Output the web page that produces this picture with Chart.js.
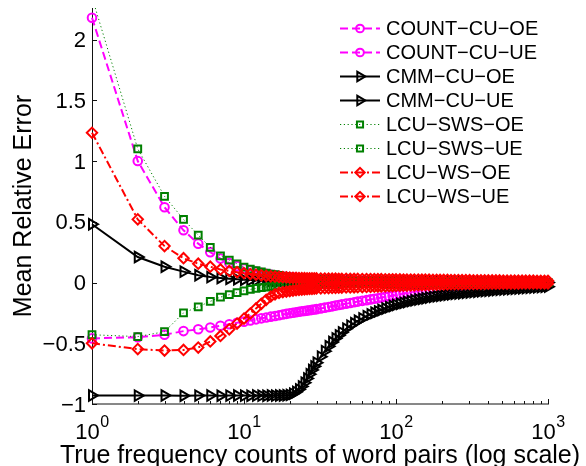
<!DOCTYPE html>
<html><head><meta charset="utf-8">
<script src="https://cdn.jsdelivr.net/npm/chart.js@4/dist/chart.umd.min.js"></script>
<style>html,body{margin:0;padding:0;background:#fff;overflow:hidden}canvas{display:block}</style>
</head><body>
<canvas id="c" width="586" height="466"></canvas>
<script>
// ---- data ----
const X = [1,2,3,4,5,6,7,8,9,10,
  11,12,13,14,15,16,17,18,19,20,
  21,22,23,24,25,26,27,28,29,30,
  32,34,36,38,40,42,44,47,50,53,
  56,60,64,68,72,76,80,85,90,95,
  100,106,112,118,125,132,140,148,156,165,
  175,185,195,206,218,230,243,257,272,288,
  305,323,342,362,383,405,429,454,480,508,
  538,570,603,638,675,714,756,800,847,896,
  948,1000];

const COUNT_CU_OE = [2.18,1.00,0.62,0.43,0.32,0.25,0.197,0.16,0.135,0.115,
  0.10,0.09,0.08,0.072,0.065,0.06,0.055,0.05,0.047,0.044,
  0.041,0.039,0.037,0.035,0.033,0.031,0.030,0.028,0.027,0.026,
  0.024,0.022,0.021,0.020,0.019,0.018,0.017,0.016,0.015,0.014,
  0.013,0.012,0.011,0.011,0.010,0.010,0.009,0.009,0.008,0.008,
  0.008,0.007,0.007,0.007,0.006,0.006,0.006,0.006,0.005,0.005,
  0.005,0.005,0.004,0.004,0.004,0.004,0.004,0.003,0.003,0.003,
  0.003,0.003,0.003,0.003,0.002,0.002,0.002,0.002,0.002,0.002,
  0.002,0.002,0.002,0.002,0.001,0.001,0.001,0.001,0.001,0.001,
  0.001,0.001];

const COUNT_CU_UE = [-0.46,-0.45,-0.43,-0.40,-0.385,-0.37,-0.356,-0.343,-0.332,-0.322,
  -0.312,-0.303,-0.295,-0.288,-0.281,-0.275,-0.269,-0.263,-0.258,-0.253,
  -0.249,-0.245,-0.241,-0.237,-0.234,-0.231,-0.228,-0.225,-0.222,-0.219,
  -0.213,-0.207,-0.201,-0.196,-0.19,-0.185,-0.18,-0.174,-0.168,-0.162,
  -0.157,-0.151,-0.145,-0.139,-0.134,-0.129,-0.124,-0.118,-0.113,-0.108,
  -0.103,-0.097,-0.092,-0.087,-0.081,-0.076,-0.07,-0.065,-0.06,-0.055,
  -0.05,-0.045,-0.041,-0.037,-0.034,-0.031,-0.028,-0.026,-0.024,-0.022,
  -0.02,-0.019,-0.018,-0.017,-0.016,-0.015,-0.014,-0.013,-0.013,-0.012,
  -0.011,-0.011,-0.01,-0.01,-0.009,-0.009,-0.008,-0.008,-0.007,-0.007,
  -0.006,-0.006];

const CMM_CU_OE = [0.48,0.21,0.13,0.09,0.06,0.045,0.037,0.031,0.027,0.023,
  0.020,0.018,0.016,0.015,0.013,0.012,0.011,0.010,0.010,0.009,
  0.009,0.008,0.008,0.008,0.007,0.007,0.007,0.006,0.006,0.006,
  0.006,0.005,0.005,0.005,0.005,0.004,0.004,0.004,0.004,0.004,
  0.003,0.003,0.003,0.003,0.003,0.003,0.003,0.002,0.002,0.002,
  0.002,0.002,0.002,0.002,0.002,0.002,0.002,0.002,0.002,0.002,
  0.002,0.002,0.001,0.001,0.001,0.001,0.001,0.001,0.001,0.001,
  0.001,0.001,0.001,0.001,0.001,0.001,0.001,0.001,0.001,0.001,
  0.001,0.001,0.001,0.001,0.001,0.001,0.001,0.001,0.001,0.001,
  0.001,0.001];

const CMM_CU_UE = [-0.93,-0.931,-0.93,-0.932,-0.931,-0.93,-0.932,-0.931,-0.93,-0.931,
  -0.932,-0.93,-0.931,-0.932,-0.93,-0.931,-0.93,-0.93,-0.928,-0.925,
  -0.915,-0.90,-0.88,-0.855,-0.825,-0.79,-0.755,-0.72,-0.69,-0.66,
  -0.61,-0.565,-0.525,-0.49,-0.46,-0.435,-0.41,-0.38,-0.355,-0.335,
  -0.315,-0.295,-0.277,-0.262,-0.249,-0.237,-0.226,-0.214,-0.203,-0.193,
  -0.184,-0.175,-0.167,-0.16,-0.153,-0.146,-0.14,-0.134,-0.129,-0.123,
  -0.118,-0.113,-0.109,-0.105,-0.101,-0.097,-0.094,-0.091,-0.088,-0.085,
  -0.082,-0.079,-0.076,-0.073,-0.071,-0.068,-0.066,-0.063,-0.061,-0.059,
  -0.056,-0.054,-0.052,-0.05,-0.048,-0.046,-0.044,-0.042,-0.04,-0.038,
  -0.036,-0.034];

const LCU_SWS_OE = [2.35,1.10,0.71,0.52,0.39,0.29,0.22,0.184,0.154,0.127,
  0.11,0.097,0.087,0.078,0.07,0.064,0.058,0.053,0.049,0.045,
  0.042,0.039,0.036,0.034,0.032,0.030,0.028,0.027,0.025,0.024,
  0.022,0.020,0.019,0.018,0.017,0.016,0.015,0.014,0.013,0.012,
  0.012,0.011,0.010,0.010,0.009,0.009,0.008,0.008,0.007,0.007,
  0.007,0.006,0.006,0.006,0.005,0.005,0.005,0.005,0.004,0.004,
  0.004,0.004,0.003,0.003,0.003,0.003,0.003,0.003,0.002,0.002,
  0.002,0.002,0.002,0.002,0.002,0.002,0.002,0.002,0.002,0.002,
  0.002,0.002,0.001,0.001,0.001,0.001,0.001,0.001,0.001,0.001,
  0.001,0.001];

const LCU_SWS_UE = [-0.43,-0.445,-0.405,-0.25,-0.20,-0.155,-0.12,-0.10,-0.083,-0.068,
  -0.057,-0.048,-0.042,-0.037,-0.033,-0.029,-0.027,-0.025,-0.023,-0.021,
  -0.020,-0.019,-0.018,-0.017,-0.016,-0.015,-0.015,-0.014,-0.014,-0.013,
  -0.012,-0.012,-0.011,-0.011,-0.010,-0.010,-0.009,-0.009,-0.008,-0.008,
  -0.008,-0.007,-0.007,-0.007,-0.006,-0.006,-0.006,-0.005,-0.005,-0.005,
  -0.005,-0.004,-0.004,-0.004,-0.004,-0.004,-0.004,-0.004,-0.004,-0.004,
  -0.004,-0.003,-0.003,-0.003,-0.003,-0.003,-0.003,-0.003,-0.003,-0.003,
  -0.003,-0.003,-0.002,-0.002,-0.002,-0.002,-0.002,-0.002,-0.002,-0.002,
  -0.002,-0.002,-0.002,-0.002,-0.002,-0.002,-0.002,-0.002,-0.002,-0.002,
  -0.001,-0.001];

const LCU_WS_OE = [1.233,0.52,0.30,0.20,0.155,0.13,0.108,0.095,0.085,0.077,
  0.070,0.064,0.059,0.055,0.051,0.048,0.046,0.044,0.042,0.040,
  0.039,0.038,0.037,0.036,0.036,0.035,0.035,0.034,0.034,0.034,
  0.033,0.033,0.032,0.032,0.032,0.031,0.031,0.031,0.030,0.030,
  0.030,0.029,0.029,0.029,0.028,0.028,0.028,0.027,0.027,0.027,
  0.026,0.026,0.025,0.025,0.025,0.024,0.024,0.023,0.023,0.023,
  0.022,0.022,0.021,0.021,0.021,0.020,0.020,0.020,0.019,0.019,
  0.019,0.018,0.018,0.018,0.018,0.017,0.017,0.017,0.017,0.016,
  0.016,0.016,0.016,0.015,0.015,0.015,0.015,0.015,0.014,0.014,
  0.014,0.014];

const LCU_WS_UE = [-0.50,-0.548,-0.56,-0.555,-0.535,-0.485,-0.44,-0.385,-0.338,-0.297,
  -0.255,-0.213,-0.175,-0.142,-0.115,-0.097,-0.086,-0.079,-0.074,-0.07,
  -0.066,-0.063,-0.06,-0.058,-0.056,-0.054,-0.053,-0.052,-0.05,-0.049,
  -0.048,-0.047,-0.046,-0.045,-0.044,-0.043,-0.042,-0.041,-0.04,-0.039,
  -0.038,-0.037,-0.036,-0.035,-0.034,-0.033,-0.032,-0.031,-0.03,-0.029,
  -0.028,-0.027,-0.026,-0.025,-0.024,-0.023,-0.022,-0.021,-0.02,-0.019,
  -0.018,-0.017,-0.016,-0.015,-0.015,-0.014,-0.014,-0.013,-0.013,-0.012,
  -0.012,-0.012,-0.011,-0.011,-0.011,-0.010,-0.010,-0.010,-0.010,-0.009,
  -0.009,-0.009,-0.009,-0.009,-0.008,-0.008,-0.008,-0.008,-0.008,-0.008,
  -0.008,-0.008];

const SERIES_NAMES = ['COUNT\u2212CU\u2212OE','COUNT\u2212CU\u2212UE','CMM\u2212CU\u2212OE','CMM\u2212CU\u2212UE',
  'LCU\u2212SWS\u2212OE','LCU\u2212SWS\u2212UE','LCU\u2212WS\u2212OE','LCU\u2212WS\u2212UE'];
const SERIES_VALUES = [COUNT_CU_OE, COUNT_CU_UE, CMM_CU_OE, CMM_CU_UE, LCU_SWS_OE, LCU_SWS_UE, LCU_WS_OE, LCU_WS_UE];

const Y_TICKS = [-1,-0.5,0,0.5,1,1.5,2];
const Y_TICK_LABELS = ['\u22121','\u22120.5','0','0.5','1','1.5','2'];
const X_TICKS = [1,10,100,1000];
const X_TICK_BASE = '10';
const X_TICK_EXPONENTS = ['0','1','2','3'];
const X_TITLE = 'True frequency counts of word pairs (log scale)';
const Y_TITLE = 'Mean Relative Error';

// ---- styles ----
const FONT = '"Liberation Sans", Arial, Helvetica, sans-serif';
const MAG = {color:'#ff00ff', dash:[8,4], lw:2, pt:'circle', r:4.3, rot:0, pw:2};
const BLK = {color:'#000000', dash:[], lw:2, pt:'triangle', r:6, rot:90, pw:2};
const GRN = {color:'#008000', dash:[1.2,2.6], lw:1, pt:'rect', r:4.8, rot:0, pw:2};
const RED = {color:'#ff0000', dash:[8,3,2,3], lw:2, pt:'rectRot', r:5.2, rot:0, pw:2};
const STYLES = [MAG, MAG, BLK, BLK, GRN, GRN, RED, RED];

SERIES_VALUES.forEach((s,i)=>{ if (s.length !== X.length) console.warn('length mismatch', SERIES_NAMES[i], s.length); });

const datasets = SERIES_VALUES.map((vals, i) => {
  const st = STYLES[i];
  return {
    label: SERIES_NAMES[i],
    data: X.map((x, k) => ({x: x, y: vals[k]})),
    borderColor: st.color,
    backgroundColor: 'rgba(0,0,0,0)',
    borderWidth: st.lw,
    borderDash: st.dash,
    pointStyle: st.pt,
    pointRadius: st.r,
    pointRotation: st.rot,
    pointBorderWidth: st.pw,
    pointBorderColor: st.color,
    pointBackgroundColor: 'rgba(0,0,0,0)',
    tension: 0,
    fill: false,
    clip: {left: false, top: 0, right: false, bottom: false},
    order: SERIES_VALUES.length - 1 - i
  };
});

function drawMarker(ctx, st, x, y) {
  ctx.save();
  ctx.strokeStyle = st.color;
  ctx.fillStyle = 'rgba(0,0,0,0)';
  ctx.lineWidth = st.pw;
  ctx.setLineDash([]);
  if (Chart.helpers && Chart.helpers.drawPoint) {
    Chart.helpers.drawPoint(ctx, {pointStyle: st.pt, rotation: st.rot, radius: st.r * 0.9, borderWidth: st.pw}, x, y);
  }
  ctx.restore();
}

const axesPlugin = {
  id: 'matlabAxes',
  beforeDatasetsDraw(chart) {
    const ctx = chart.ctx, xs = chart.scales.x, ys = chart.scales.y, a = chart.chartArea;
    ctx.save();
    ctx.strokeStyle = '#111';
    ctx.lineWidth = 1;
    ctx.setLineDash([]);
    ctx.beginPath();
    ctx.moveTo(a.left + 0.5, a.top); ctx.lineTo(a.left + 0.5, a.bottom);
    ctx.moveTo(a.left, a.bottom); ctx.lineTo(a.right + 1, a.bottom);
    ctx.stroke();
    // y ticks (inward)
    ctx.beginPath();
    Y_TICKS.forEach(v => {
      const y = Math.round(ys.getPixelForValue(v)) + 0.5;
      ctx.moveTo(a.left, y); ctx.lineTo(a.left + 5, y);
    });
    ctx.stroke();
    // x ticks (inward) major and minor
    ctx.beginPath();
    X_TICKS.forEach((d, i) => {
      const px = Math.round(xs.getPixelForValue(d)) + 0.5;
      ctx.moveTo(px, a.bottom); ctx.lineTo(px, a.bottom - 5);
      if (i < X_TICKS.length - 1) {
        for (let k = 2; k <= 9; k++) {
          const mx = Math.round(xs.getPixelForValue(d * k)) + 0.5;
          ctx.moveTo(mx, a.bottom); ctx.lineTo(mx, a.bottom - 3);
        }
      }
    });
    ctx.stroke();
    // y tick labels
    ctx.fillStyle = '#000';
    ctx.font = '22px ' + FONT;
    ctx.textAlign = 'right';
    ctx.textBaseline = 'alphabetic';
    Y_TICKS.forEach((v, i) => {
      const y = ys.getPixelForValue(v);
      ctx.fillText(Y_TICK_LABELS[i], a.left - 6, y + 7.6);
    });
    // x tick labels 10^n
    ctx.textAlign = 'left';
    X_TICKS.forEach((d, i) => {
      const px = xs.getPixelForValue(d);
      ctx.font = '22px ' + FONT;
      const wb = ctx.measureText(X_TICK_BASE).width;
      ctx.font = '16px ' + FONT;
      const we = ctx.measureText(X_TICK_EXPONENTS[i]).width;
      const x0 = px - (wb + we) / 2;
      ctx.font = '22px ' + FONT;
      ctx.fillText(X_TICK_BASE, x0, 439);
      ctx.font = '16px ' + FONT;
      ctx.fillText(X_TICK_EXPONENTS[i], x0 + wb + 0.5, 427);
    });
    // axis titles
    ctx.font = '25px ' + FONT;
    ctx.textAlign = 'center';
    ctx.fillText(X_TITLE, (a.left + a.right) / 2, 463);
    ctx.save();
    ctx.translate(31, (a.top + a.bottom) / 2);
    ctx.rotate(-Math.PI / 2);
    ctx.fillText(Y_TITLE, 0, 0);
    ctx.restore();
    ctx.restore();
  },
  afterDraw(chart) {
    const ctx = chart.ctx;
    ctx.save();
    SERIES_NAMES.forEach((name, i) => {
      const st = STYLES[i];
      const cy = 28 + 24 * i;
      ctx.save();
      ctx.strokeStyle = st.color;
      ctx.lineWidth = st.lw;
      ctx.setLineDash(st.dash);
      ctx.beginPath();
      ctx.moveTo(340, cy + 0.5); ctx.lineTo(380, cy + 0.5);
      ctx.stroke();
      ctx.restore();
      drawMarker(ctx, st, 360, cy + 0.5);
      ctx.fillStyle = '#000';
      ctx.font = '20px ' + FONT;
      ctx.textAlign = 'left';
      ctx.textBaseline = 'alphabetic';
      ctx.fillText(name, 386, cy + 7.2);
    });
    ctx.restore();
  }
};

new Chart(document.getElementById('c'), {
  type: 'line',
  data: { datasets: datasets },
  options: {
    responsive: false,
    animation: false,
    devicePixelRatio: 1,
    layout: { padding: { left: 0, right: 38, top: 0, bottom: 0 } },
    plugins: { legend: { display: false }, tooltip: { enabled: false } },
    scales: {
      x: {
        type: 'logarithmic', min: 1, max: 1000,
        grid: { display: false }, border: { display: false },
        ticks: { display: false },
        afterFit(s) { s.height = 62; }
      },
      y: {
        type: 'linear', min: -1, max: 2.26,
        grid: { display: false }, border: { display: false },
        ticks: { display: false },
        afterFit(s) { s.width = 92; }
      }
    }
  },
  plugins: [axesPlugin]
});
</script>
</body></html>
